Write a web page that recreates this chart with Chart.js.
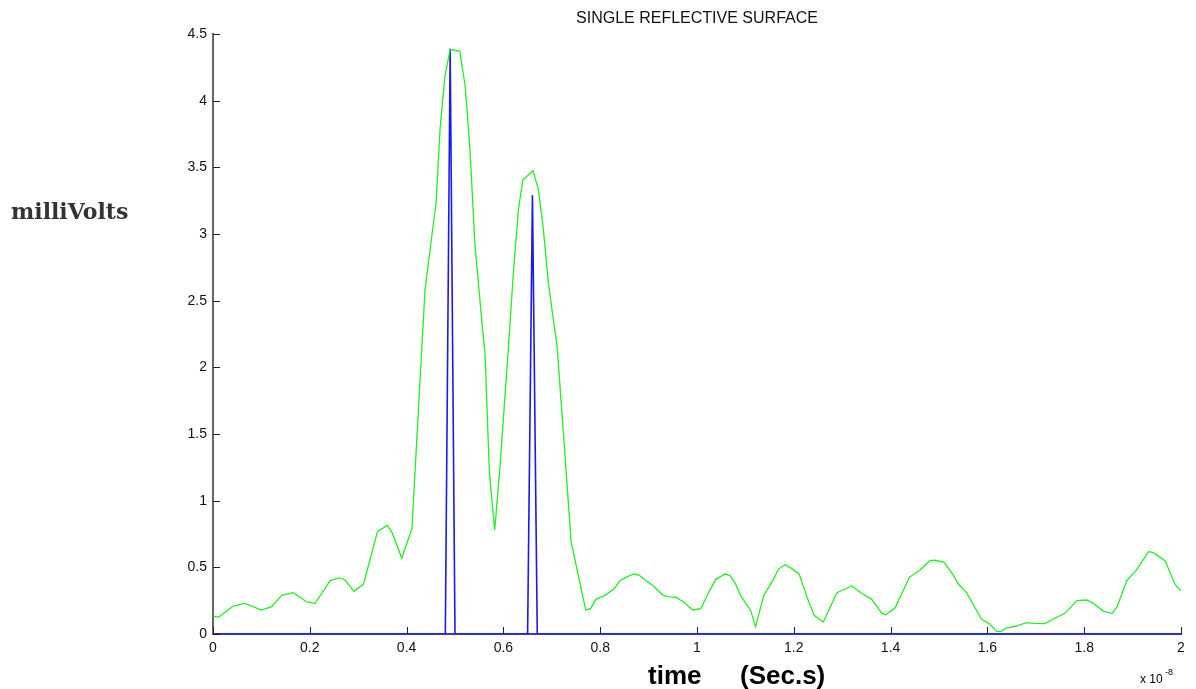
<!DOCTYPE html>
<html>
<head>
<meta charset="utf-8">
<title>Single reflective surface</title>
<script src="https://cdn.jsdelivr.net/npm/chart.js"></script>
<style>
  html, body { margin: 0; padding: 0; background: #fff; }
  #wrap { width: 1196px; height: 689px; }
</style>
</head>
<body>
<div id="wrap"><canvas id="scope" width="1196" height="689"></canvas></div>
<script>
// time is in units of 1e-8 s, values in millivolts
const greenTime = [
  0, 0.011, 0.042, 0.066, 0.10, 0.121, 0.142, 0.166, 0.194, 0.211,
  0.242, 0.261, 0.273, 0.291, 0.311, 0.340, 0.360, 0.370, 0.390, 0.411,
  0.438, 0.461, 0.469, 0.479, 0.490, 0.510, 0.521, 0.531, 0.541, 0.557,
  0.562, 0.571, 0.582, 0.593, 0.610, 0.621, 0.631, 0.640, 0.661, 0.672,
  0.682, 0.693, 0.711, 0.724, 0.740, 0.770, 0.780, 0.791, 0.810, 0.829,
  0.841, 0.856, 0.870, 0.881, 0.893, 0.910, 0.930, 0.941, 0.957, 0.972,
  0.991, 1.008, 1.023, 1.039, 1.058, 1.068, 1.079, 1.090, 1.111, 1.121,
  1.138, 1.158, 1.168, 1.182, 1.196, 1.211, 1.227, 1.242, 1.261, 1.289,
  1.320, 1.340, 1.361, 1.382, 1.390, 1.409, 1.439, 1.461, 1.481, 1.492,
  1.510, 1.530, 1.540, 1.557, 1.588, 1.605, 1.619, 1.629, 1.639, 1.660,
  1.681, 1.698, 1.719, 1.740, 1.760, 1.785, 1.805, 1.819, 1.840, 1.858,
  1.868, 1.888, 1.909, 1.933, 1.943, 1.967, 1.988, 2.0
];
const greenVolts = [
  0.135, 0.125, 0.21, 0.23, 0.18, 0.205, 0.29, 0.31, 0.24, 0.23,
  0.40, 0.42, 0.405, 0.32, 0.375, 0.77, 0.815, 0.76, 0.57, 0.79,
  2.58, 3.24, 3.78, 4.18, 4.385, 4.37, 4.11, 3.63, 2.93, 2.28,
  2.11, 1.21, 0.78, 1.255, 2.13, 2.73, 3.18, 3.405, 3.475, 3.34,
  3.055, 2.63, 2.155, 1.505, 0.69, 0.18, 0.19, 0.26, 0.29, 0.34,
  0.40, 0.43, 0.45, 0.44, 0.405, 0.36, 0.29, 0.28, 0.275, 0.24,
  0.18, 0.19, 0.305, 0.41, 0.45, 0.44, 0.38, 0.29, 0.175, 0.055,
  0.29, 0.41, 0.485, 0.52, 0.49, 0.45, 0.28, 0.14, 0.09, 0.31,
  0.36, 0.305, 0.26, 0.155, 0.145, 0.195, 0.425, 0.48, 0.55, 0.553,
  0.54, 0.44, 0.375, 0.31, 0.11, 0.075, 0.02, 0.02, 0.045, 0.06,
  0.085, 0.08, 0.078, 0.12, 0.155, 0.25, 0.255, 0.23, 0.17, 0.155,
  0.205, 0.40, 0.485, 0.617, 0.61, 0.55, 0.37, 0.325
];

// blue trace: reflection impulses
const blueTime = [0, 0.48, 0.49, 0.50, 0.65, 0.66, 0.67, 2.0];
const blueVolts = [0, 0, 4.39, 0, 0, 3.29, 0, 0];

const xTickValues = [0, 0.2, 0.4, 0.6, 0.8, 1, 1.2, 1.4, 1.6, 1.8, 2];
const xTickLabels = ['0', '0.2', '0.4', '0.6', '0.8', '1', '1.2', '1.4', '1.6', '1.8', '2'];
const yTickValues = [0, 0.5, 1, 1.5, 2, 2.5, 3, 3.5, 4, 4.5];
const yTickLabels = ['0', '0.5', '1', '1.5', '2', '2.5', '3', '3.5', '4', '4.5'];

const chartTitle = 'SINGLE REFLECTIVE SURFACE';
const yLabel = 'milliVolts';
const xLabelA = 'time';
const xLabelB = '(Sec.s)';

function toPoints(xs, ys) {
  return xs.map((x, i) => ({ x: x, y: ys[i] }));
}

// ticks pointing into the plot, plus the text around it
const decorations = {
  id: 'decorations',
  afterDatasetsDraw(chart) {
    const ctx = chart.ctx;
    const area = chart.chartArea;
    const xs = chart.scales.x;
    const ys = chart.scales.y;
    ctx.save();
    ctx.strokeStyle = '#222';
    ctx.lineWidth = 1;
    ctx.beginPath();
    xTickValues.forEach(v => {
      const px = Math.round(xs.getPixelForValue(v)) + 0.5;
      ctx.moveTo(px, area.bottom);
      ctx.lineTo(px, area.bottom - 7);
    });
    yTickValues.forEach(v => {
      const py = Math.round(ys.getPixelForValue(v)) + 0.5;
      ctx.moveTo(area.left, py);
      ctx.lineTo(area.left + 7, py);
    });
    ctx.stroke();

    ctx.fillStyle = '#111';
    ctx.textBaseline = 'alphabetic';
    ctx.textAlign = 'center';
    ctx.font = '16px "Liberation Sans", Arial, sans-serif';
    ctx.fillText(chartTitle, (area.left + area.right) / 2, 23);

    ctx.textAlign = 'left';
    ctx.fillStyle = '#333';
    ctx.font = 'bold 22px "DejaVu Serif", serif';
    ctx.fillText(yLabel, 11, 219);

    ctx.fillStyle = '#000';
    ctx.font = 'bold 26px "Liberation Sans", Arial, sans-serif';
    ctx.fillText(xLabelA, 648, 684);
    ctx.fillText(xLabelB, 740, 684);

    ctx.font = '12px "Liberation Sans", Arial, sans-serif';
    ctx.fillText('x 10', 1140, 683);
    ctx.font = '9px "Liberation Sans", Arial, sans-serif';
    ctx.fillText('-8', 1165, 675);
    ctx.restore();
  }
};

window.addEventListener('DOMContentLoaded', function () {
  const ctx = document.getElementById('scope').getContext('2d');
  new Chart(ctx, {
    type: 'line',
    data: {
      datasets: [{
        label: 'envelope',
        data: toPoints(greenTime, greenVolts),
        borderColor: '#22ee22',
        borderWidth: 1.3,
        pointRadius: 0,
        tension: 0,
        fill: false
      }, {
        label: 'reflections',
        data: toPoints(blueTime, blueVolts),
        borderColor: '#1a1aee',
        borderWidth: 1.6,
        pointRadius: 0,
        tension: 0,
        fill: false
      }]
    },
    options: {
      responsive: false,
      animation: false,
      devicePixelRatio: 1,
      layout: { padding: { top: 34, right: 15, left: 0, bottom: 0 } },
      plugins: {
        legend: { display: false },
        title: { display: false },
        tooltip: { enabled: false }
      },
      scales: {
        x: {
          type: 'linear',
          min: 0,
          max: 2,
          afterBuildTicks: s => { s.ticks = xTickValues.map(v => ({ value: v })); },
          afterFit: s => { s.height = 55; },
          ticks: {
            callback: (v, i) => xTickLabels[i],
            maxRotation: 0,
            autoSkip: false,
            padding: 6,
            color: '#111',
            font: { family: '"Liberation Sans", Arial, sans-serif', size: 14 }
          },
          grid: { display: true, drawOnChartArea: false, drawTicks: false },
          border: { display: true, color: '#3a3ac8', width: 2 }
        },
        y: {
          type: 'linear',
          min: 0,
          max: 4.5,
          afterBuildTicks: s => { s.ticks = yTickValues.map(v => ({ value: v })); },
          afterFit: s => { s.width = 213; },
          ticks: {
            callback: (v, i) => yTickLabels[i],
            autoSkip: false,
            padding: 6,
            color: '#111',
            font: { family: '"Liberation Sans", Arial, sans-serif', size: 14 }
          },
          grid: { display: true, drawOnChartArea: false, drawTicks: false },
          border: { display: true, color: '#666', width: 2 }
        }
      }
    },
    plugins: [decorations]
  });
});
</script>
</body>
</html>
